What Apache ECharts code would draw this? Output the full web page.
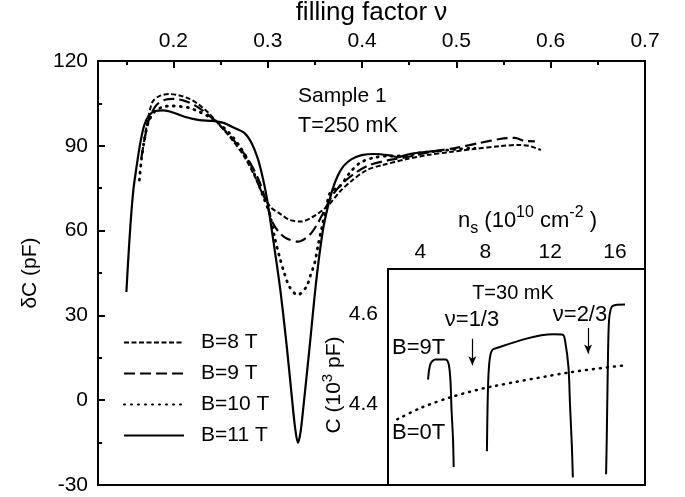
<!DOCTYPE html>
<html><head><meta charset="utf-8">
<script src="https://cdn.jsdelivr.net/npm/echarts@6/dist/echarts.min.js"></script>
<style>html,body{margin:0;padding:0;background:#fff}#c{width:685px;height:497px}</style>
</head><body><div id="c"></div>
<script>
// ---- main panel: filling factor vs deltaC ----
const nuB8 = [0.1692,0.1724,0.1777,0.1851,0.1958,0.2064,0.2170,0.2276,0.2382,0.2488,0.2616,0.2754,0.2870,0.2966,0.3040,0.3125,0.3231,0.3356,0.3479,0.3585,0.3656,0.3762,0.3900,0.4049,0.4219,0.4473,0.4686,0.4930,0.5195,0.5461,0.5673,0.5779,0.5896];
const dcB8 = [92.1,98.4,105.5,107.6,108.3,107.8,106.6,104.4,101.3,97.4,92.4,86.0,78.6,71.5,68.0,66.1,63.8,63.2,64.9,67.3,69.4,73.7,77.9,81.4,83.2,85.3,86.7,87.8,88.9,89.9,90.3,89.9,88.5];
const nuB9 = [0.1660,0.1692,0.1745,0.1819,0.1904,0.2011,0.2117,0.2223,0.2329,0.2435,0.2552,0.2679,0.2807,0.2913,0.2977,0.3054,0.3125,0.3196,0.3320,0.3444,0.3532,0.3603,0.3688,0.3794,0.3943,0.4081,0.4293,0.4473,0.4718,0.4983,0.5248,0.5461,0.5620,0.5726,0.5832];
const dcB9 = [85.7,92.1,99.8,104.4,106.2,106.6,105.9,104.4,102.0,99.1,95.2,90.3,84.3,77.2,70.8,62.7,59.2,57.3,56.1,58.5,62.7,67.3,72.6,76.8,80.7,83.2,85.0,86.0,87.8,89.2,91.0,92.4,92.8,91.7,91.6];
const nuB10 = [0.1639,0.1660,0.1692,0.1735,0.1798,0.1883,0.1979,0.2074,0.2170,0.2276,0.2382,0.2488,0.2594,0.2701,0.2807,0.2892,0.2966,0.3019,0.3072,0.3125,0.3178,0.3231,0.3316,0.3409,0.3454,0.3497,0.3534,0.3568,0.3621,0.3667,0.3762,0.3868,0.3975,0.4113,0.4293,0.4452,0.4611,0.4824,0.5036,0.5195];
const dcB10 = [77.9,85.0,92.1,98.4,102.0,103.7,104.1,103.9,103.4,102.0,100.2,97.7,94.5,89.9,83.9,77.2,70.8,66.2,57.7,50.7,44.7,40.1,37.2,40.1,44.3,48.5,54.9,60.2,68.4,73.7,75.6,80.4,83.9,85.7,86.4,86.4,87.5,88.2,88.9,89.2];
const nuB11 = [0.1501,0.1517,0.1544,0.1575,0.1607,0.1650,0.1692,0.1745,0.1809,0.1894,0.2011,0.2127,0.2276,0.2414,0.2531,0.2648,0.2754,0.2828,0.2892,0.2945,0.2987,0.3030,0.3083,0.3136,0.3200,0.3253,0.3290,0.3320,0.3348,0.3380,0.3444,0.3515,0.3585,0.3638,0.3688,0.3741,0.3805,0.3890,0.3996,0.4134,0.4272,0.4378,0.4505,0.4665,0.4824];
const dcB11 = [38.3,47.8,62.0,74.4,82.2,91.3,97.4,100.9,102.3,102.5,101.6,100.2,99.1,98.8,98.1,96.3,94.5,91.0,85.7,79.0,72.2,63.0,51.0,38.3,19.5,1.9,-9.8,-15.1,-11.2,-1.7,18.9,42.5,60.2,68.5,74.7,79.3,82.9,85.3,86.7,87.1,86.7,86.0,87.1,87.8,88.2];
const nuTickLabels = [0.2,0.3,0.4,0.5,0.6,0.7];
const nuMinorTicks = [0.15,0.25,0.35,0.45,0.55,0.65];
const legendNames = ['B=8 T','B=9 T','B=10 T','B=11 T'];

// ---- inset: n_s vs C ----
const ns9a = [4.47,4.62,4.92,5.54,5.74,5.85,5.91,6.01,6.05];
const c9a  = [4.454,4.489,4.499,4.499,4.489,4.453,4.394,4.321,4.260];
const ns9b = [8.10,8.14,8.20,8.31,8.51,12.20,12.78,12.92,13.13,13.23,13.34,13.40];
const c9b  = [4.295,4.394,4.467,4.508,4.522,4.555,4.554,4.541,4.482,4.394,4.306,4.237];
const ns9c = [15.45,15.49,15.55,15.61,15.69,15.86,16.62];
const c9c  = [4.244,4.321,4.467,4.570,4.603,4.618,4.621];
const ns0 = [2.57,4.0,5.95,8.31,13.34,16.62];
const c0  = [4.366,4.391,4.416,4.438,4.471,4.486];
const nsTickLabels = [4,8,12,16];
const cTickLabels = [4.4,4.6];
const cTicks = [4.3,4.4,4.5,4.6];
const arrowNu13 = [7.2, 4.545, 4.486];   // n_s, C start, C end
const arrowNu23 = [14.34, 4.569, 4.512];

const zip = (a,b)=>a.map((v,i)=>[v,b[i]]);
const FF = '"Liberation Sans", Arial, sans-serif';
const fnt = (s)=>s+'px '+FF;

const chart = echarts.init(document.getElementById('c'), null, {renderer:'canvas'});
const black = '#000';
const lineBase = {type:'line', showSymbol:false, symbol:'none', smooth:0.3, xAxisIndex:0, yAxisIndex:0, silent:true, z:3};
const axLine = (show)=>({show:show, onZero:false, lineStyle:{color:black, width:2}});

const option = {
  backgroundColor:'#fff',
  animation:false,
  textStyle:{fontFamily:FF, color:black},
  grid:[
    {left:98, top:61, right:40, bottom:12, show:true, borderColor:black, borderWidth:2, backgroundColor:'transparent', outerBoundsMode:'none', containLabel:false},
    {left:388, top:269, right:40, bottom:12, show:true, borderColor:black, borderWidth:2, backgroundColor:'#fff', z:5, outerBoundsMode:'none', containLabel:false}
  ],
  legend:{
    orient:'vertical', left:118, top:327, itemWidth:60, itemHeight:14, itemGap:10,
    data:legendNames,
    itemStyle:{color:'rgba(0,0,0,0)', borderWidth:0, opacity:0},
    textStyle:{fontSize:21, lineHeight:21, color:black, fontFamily:FF, padding:[0,0,0,12]},
    selectedMode:false
  },
  xAxis:[
    {type:'value', gridIndex:0, position:'top', min:0.12, max:0.7,
     name:'filling factor ν', nameLocation:'middle', nameGap:31,
     nameTextStyle:{fontSize:26, color:black, fontFamily:FF},
     axisLine:axLine(true),
     axisTick:{show:true, inside:true, length:7, lineStyle:{color:black, width:2}, customValues:nuTickLabels},
     axisLabel:{show:true, fontSize:21, color:black, margin:9, customValues:nuTickLabels, formatter:v=>v.toFixed(1)},
     splitLine:{show:false}},
    {type:'value', gridIndex:0, position:'top', min:0.12, max:0.7,
     axisLine:axLine(false), axisLabel:{show:false}, splitLine:{show:false},
     axisTick:{show:true, inside:true, length:4, lineStyle:{color:black, width:2}, customValues:nuMinorTicks}},
    {type:'value', gridIndex:1, position:'top', min:2, max:17.85, interval:2,
     name:'{n|n}{sub|s}{n| (10}{sup|10}{n| cm}{sup|-2}{n| )}', nameLocation:'middle', nameGap:32,
     nameTextStyle:{padding:[0,0,0,22], rich:{
        n:{fontSize:22, fontFamily:FF, color:black, lineHeight:32},
        sub:{fontSize:16, fontFamily:FF, color:black, lineHeight:16, verticalAlign:'bottom'},
        sup:{fontSize:16, fontFamily:FF, color:black, lineHeight:16, verticalAlign:'top'}}},
     axisLine:axLine(true),
     axisTick:{show:true, inside:true, length:5, lineStyle:{color:black, width:2}},
     axisLabel:{show:true, fontSize:21, color:black, margin:6, customValues:nsTickLabels},
     splitLine:{show:false}},
    {type:'value', gridIndex:1, position:'bottom', min:2, max:17.85, interval:2,
     axisLine:axLine(true), axisLabel:{show:false}, splitLine:{show:false},
     axisTick:{show:true, inside:true, length:5, lineStyle:{color:black, width:2}}}
  ],
  yAxis:[
    {type:'value', gridIndex:0, min:-30, max:120, interval:30,
     name:'δC (pF)', nameLocation:'middle', nameGap:57, nameRotate:90,
     nameTextStyle:{fontSize:21, color:black, fontFamily:FF},
     axisLine:axLine(true),
     axisTick:{show:true, inside:true, length:7, lineStyle:{color:black, width:2}},
     minorTick:{show:true, splitNumber:2, length:4, lineStyle:{color:black, width:2}},
     axisLabel:{show:true, fontSize:21, color:black, margin:10},
     splitLine:{show:false}, minorSplitLine:{show:false}},
    {type:'value', gridIndex:1, min:4.22, max:4.70, position:'left',
     name:'{n|C (10}{sup|3}{n| pF)}', nameLocation:'middle', nameGap:40, nameRotate:90,
     nameTextStyle:{padding:[0,16,0,0], rich:{
        n:{fontSize:21, fontFamily:FF, color:black, lineHeight:28},
        sup:{fontSize:15, fontFamily:FF, color:black, lineHeight:15, verticalAlign:'top'}}},
     axisLine:axLine(true),
     axisTick:{show:true, inside:true, length:5, lineStyle:{color:black, width:2}, customValues:cTicks},
     axisLabel:{show:true, fontSize:21, color:black, margin:10, customValues:cTickLabels, formatter:v=>v.toFixed(1)},
     splitLine:{show:false}},
    {type:'value', gridIndex:1, min:4.22, max:4.70, position:'right',
     axisLine:axLine(true), axisLabel:{show:false}, splitLine:{show:false},
     axisTick:{show:true, inside:true, length:5, lineStyle:{color:black, width:2}, customValues:cTicks}}
  ],
  series:[
    Object.assign({}, lineBase, {name:'B=8 T', data:zip(nuB8,dcB8), lineStyle:{color:black, width:2, type:[5,2.5]}, itemStyle:{color:black}}),
    Object.assign({}, lineBase, {name:'B=9 T', data:zip(nuB9,dcB9), lineStyle:{color:black, width:2.2, type:[11,5]}, itemStyle:{color:black}}),
    Object.assign({}, lineBase, {name:'B=10 T', data:zip(nuB10,dcB10), lineStyle:{color:black, width:2.8, type:[1,6], cap:'round'}, itemStyle:{color:black}}),
    Object.assign({}, lineBase, {name:'B=11 T', data:zip(nuB11,dcB11), lineStyle:{color:black, width:2.2, type:'solid'}, itemStyle:{color:black}}),
    {type:'line', name:'inset9a', xAxisIndex:2, yAxisIndex:1, showSymbol:false, symbol:'none', smooth:0.3, z:6, silent:true,
     data:zip(ns9a,c9a), lineStyle:{color:black, width:2}},
    {type:'line', name:'inset9b', xAxisIndex:2, yAxisIndex:1, showSymbol:false, symbol:'none', smooth:0.3, z:6, silent:true,
     data:zip(ns9b,c9b), lineStyle:{color:black, width:2},
     markLine:{silent:true, symbol:['none','arrow'], symbolSize:[6,9], label:{show:false},
       lineStyle:{color:black, width:1.2, type:'solid'},
       data:[
         [{coord:[arrowNu13[0],arrowNu13[1]]},{coord:[arrowNu13[0],arrowNu13[2]]}],
         [{coord:[arrowNu23[0],arrowNu23[1]]},{coord:[arrowNu23[0],arrowNu23[2]]}]
       ]}},
    {type:'line', name:'inset9c', xAxisIndex:2, yAxisIndex:1, showSymbol:false, symbol:'none', smooth:0.3, z:6, silent:true,
     data:zip(ns9c,c9c), lineStyle:{color:black, width:2}},
    {type:'line', name:'inset0', xAxisIndex:2, yAxisIndex:1, showSymbol:false, symbol:'none', smooth:0.3, z:6, silent:true,
     data:zip(ns0,c0), lineStyle:{color:black, width:2.5, type:[1,6], cap:'round'}}
  ],
  graphic:[
    {type:'text', x:298, y:96, z:10, style:{text:'Sample 1', font:fnt(21), fill:black, textVerticalAlign:'middle'}},
    {type:'text', x:298, y:126, z:10, style:{text:'T=250 mK', font:fnt(21.5), fill:black, textVerticalAlign:'middle'}},
    {type:'text', x:513, y:293, z:10, style:{text:'T=30 mK', font:fnt(20), fill:black, textAlign:'center', textVerticalAlign:'middle'}},
    {type:'text', x:472, y:320, z:10, style:{text:'ν=1/3', font:fnt(22), fill:black, textAlign:'center', textVerticalAlign:'middle'}},
    {type:'text', x:580, y:315, z:10, style:{text:'ν=2/3', font:fnt(22), fill:black, textAlign:'center', textVerticalAlign:'middle'}},
    {type:'text', x:392, y:348, z:10, style:{text:'B=9T', font:fnt(22), fill:black, textVerticalAlign:'middle'}},
    {type:'text', x:392, y:433, z:10, style:{text:'B=0T', font:fnt(22), fill:black, textVerticalAlign:'middle'}}
  ]
};
chart.setOption(option);
</script></body></html>
